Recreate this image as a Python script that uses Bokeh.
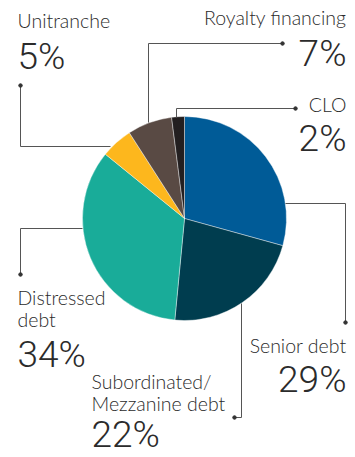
import numpy as np
from bokeh.plotting import figure
from bokeh.models import Range1d, ColumnDataSource
from bokeh.core.properties import value
from bokeh.embed import file_html
from bokeh.resources import INLINE

# ---- data ----
categories = ["Senior debt", "Subordinated/Mezzanine debt", "Distressed debt",
              "Unitranche", "Royalty financing", "CLO"]
shares = [29, 22, 34, 5, 7, 2]
label_lines = [["Senior debt"], ["Subordinated/", "Mezzanine debt"], ["Distressed", "debt"],
               ["Unitranche"], ["Royalty financing"], ["CLO"]]
colors = ["#005B97", "#003D4F", "#19AC99", "#FDB71D", "#594A44", "#231F20"]

# ---- layout (image pixel coords, y downward) ----
W, H = 355, 457
def Y(y):
    return H - y

CX, CY, R = 184, 218, 102
NAME_SIZE, PCT_SIZE = 19.5, 37
NAME_SHIFT, PCT_SHIFT = 8, 14   # renderer baseline compensation
label_layout = {
    "Senior debt": dict(x=346, align="right", name_y=[353], pct_y=393),
    "Subordinated/Mezzanine debt": dict(x=91, align="left", name_y=[389, 411], pct_y=448),
    "Distressed debt": dict(x=17, align="left", name_y=[305, 327], pct_y=368),
    "Unitranche": dict(x=17, align="left", name_y=[28], pct_y=70),
    "Royalty financing": dict(x=346, align="right", name_y=[25], pct_y=67),
    "CLO": dict(x=346, align="right", name_y=[112], pct_y=152),
}
leaders = {
    "Senior debt": [(285, 203), (345, 203), (345, 322)],
    "Subordinated/Mezzanine debt": [(241, 303), (241, 417), (234, 417)],
    "Distressed debt": [(82, 228), (20, 228), (20, 274)],
    "Unitranche": [(110, 146), (20, 146), (20, 85)],
    "Royalty financing": [(148, 122), (148, 43), (282, 43)],
    "CLO": [(176, 117), (176, 108), (295, 108)],
}

p = figure(width=W, height=H, x_range=Range1d(0, W), y_range=Range1d(0, H),
           output_backend="svg", toolbar_location=None, min_border=0,
           x_axis_type=None, y_axis_type=None)
p.grid.visible = False
p.outline_line_color = None
p.background_fill_color = "white"

total = float(sum(shares))
frac = np.array(shares) / total
cum = np.concatenate([[0], np.cumsum(frac)])
start = np.pi / 2 - 2 * np.pi * cum[:-1]
end = np.pi / 2 - 2 * np.pi * cum[1:]
src = ColumnDataSource(dict(start=start, end=end, color=colors, cat=categories))
p.wedge(x=CX, y=Y(CY), radius=R, radius_units="screen", start_angle="start", end_angle="end",
        direction="clock", fill_color="color", line_color="white", line_width=0.4, source=src)

xs, ys, dx, dy = [], [], [], []
for c in categories:
    pts = leaders[c]
    xs.append([q[0] for q in pts])
    ys.append([Y(q[1]) for q in pts])
    dx.append(pts[-1][0])
    dy.append(Y(pts[-1][1]))
p.multi_line(xs=xs, ys=ys, line_color="#555555", line_width=1)
p.scatter(x=dx, y=dy, size=3.5, color="#333333")

name_font = value("Lato Light, Lato")
pct_font = value("Roboto Light, Roboto Condensed, Roboto")
for c, s, lines in zip(categories, shares, label_lines):
    L = label_layout[c]
    for ln, by in zip(lines, L["name_y"]):
        p.text(x=[L["x"]], y=[Y(by - NAME_SHIFT)], text=[ln], text_font=name_font,
               text_font_size=f"{NAME_SIZE}px", text_color="#2b2b2b", text_align=L["align"],
               text_baseline="alphabetic")
    p.text(x=[L["x"]], y=[Y(L["pct_y"] - PCT_SHIFT)], text=[f"{s}%"], text_font=pct_font,
           text_font_size=f"{PCT_SIZE}px", text_color="#2b2b2b", text_align=L["align"],
           text_baseline="alphabetic")

open("out.html", "w").write(file_html(p, INLINE))
